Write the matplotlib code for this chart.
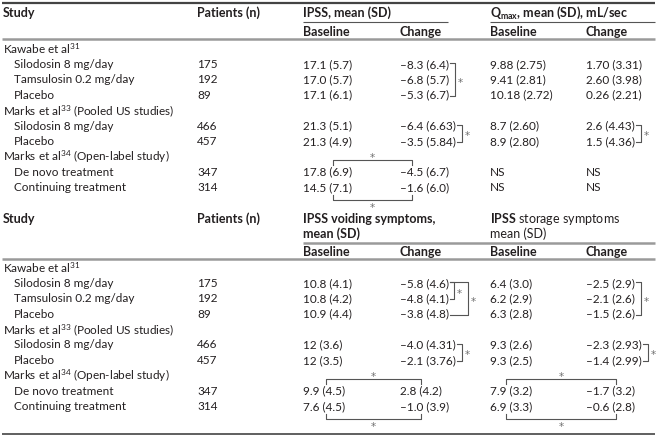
import matplotlib.pyplot as plt

plt.rcParams['font.family'] = 'Lato'
plt.rcParams['mathtext.fontset'] = 'custom'
plt.rcParams['mathtext.rm'] = 'Lato'
plt.rcParams['mathtext.bf'] = 'Lato:bold'
plt.rcParams['mathtext.it'] = 'Lato:italic'

# ---- data ----
studies = ["Kawabe et al$^{31}$",
           "Marks et al$^{33}$ (Pooled US studies)",
           "Marks et al$^{34}$ (Open-label study)"]
arms = [["Silodosin 8 mg/day", "Tamsulosin 0.2 mg/day", "Placebo"],
        ["Silodosin 8 mg/day", "Placebo"],
        ["De novo treatment", "Continuing treatment"]]
patients = [["175", "192", "89"], ["466", "457"], ["347", "314"]]

ipss_base = [["17.1 (5.7)", "17.0 (5.7)", "17.1 (6.1)"], ["21.3 (5.1)", "21.3 (4.9)"], ["17.8 (6.9)", "14.5 (7.1)"]]
ipss_change = [["–8.3 (6.4)", "–6.8 (5.7)", "–5.3 (6.7)"], ["–6.4 (6.63)", "–3.5 (5.84)"], ["–4.5 (6.7)", "–1.6 (6.0)"]]
qmax_base = [["9.88 (2.75)", "9.41 (2.81)", "10.18 (2.72)"], ["8.7 (2.60)", "8.9 (2.80)"], ["NS", "NS"]]
qmax_change = [["1.70 (3.31)", "2.60 (3.98)", "0.26 (2.21)"], ["2.6 (4.43)", "1.5 (4.36)"], ["NS", "NS"]]

void_base = [["10.8 (4.1)", "10.8 (4.2)", "10.9 (4.4)"], ["12 (3.6)", "12 (3.5)"], ["9.9 (4.5)", "7.6 (4.5)"]]
void_change = [["–5.8 (4.6)", "–4.8 (4.1)", "–3.8 (4.8)"], ["–4.0 (4.31)", "–2.1 (3.76)"], ["2.8 (4.2)", "–1.0 (3.9)"]]
stor_base = [["6.4 (3.0)", "6.2 (2.9)", "6.3 (2.8)"], ["9.3 (2.6)", "9.3 (2.5)"], ["7.9 (3.2)", "6.9 (3.3)"]]
stor_change = [["–2.5 (2.9)", "–2.1 (2.6)", "–1.5 (2.6)"], ["–2.3 (2.93)", "–1.4 (2.99)"], ["–1.7 (3.2)", "–0.6 (2.8)"]]

TXT = '#231f20'
LINE = '#555555'
RULE = '#9a9a9a'
STAR = '#707070'
FS = 8.5
FSB = 9.0
STEP = 15.4
COLX = [197, 303, 400, 490, 586]

fig = plt.figure(figsize=(6.57, 4.39), dpi=100)
ax = fig.add_axes([0, 0, 1, 1])
ax.set_xlim(0, 657)
ax.set_ylim(439, 0)
ax.axis('off')
fig.canvas.draw()
renderer = fig.canvas.get_renderer()


def put(x, y, s, **kw):
    size = FSB if kw.get('fontweight') == 'bold' else FS
    return ax.text(x, y, s, fontsize=kw.pop('fontsize', size), color=TXT, va='center', ha='left', **kw)


def right_edge(t):
    bb = t.get_window_extent(renderer)
    return ax.transData.inverted().transform((bb.x1, 0))[0]


def hline(y, x0, x1, color=LINE, lw=0.8):
    ax.plot([x0, x1], [y, y], color=color, lw=lw, solid_capstyle='butt')


def star(x, y, ha='left'):
    ax.text(x, y + 2, '*', fontsize=7.5, family='DejaVu Sans', color=STAR, va='center', ha=ha)


def bracket(texts, gap=6, extra=0):
    # right-hand bracket joining first and last text of a column, star beside it
    t_top, t_bot = texts[0], texts[-1]
    xv = max(right_edge(t) for t in texts) + gap + extra
    y0 = t_top.get_position()[1]
    y1 = t_bot.get_position()[1] + 1.5
    ax.plot([right_edge(t_top) + 1, xv, xv, right_edge(t_bot) + 1], [y0, y0, y1, y1],
            color=LINE, lw=0.8)
    star(xv + 3, (y0 + y1) / 2)
    return xv


def span(x0, x1, y, tick, star_y):
    ax.plot([x0, x0, x1, x1], [y + tick, y, y, y + tick], color=LINE, lw=0.8)
    star((x0 + x1) / 2, star_y, ha='center')


def body(y0, columns):
    cells = []
    y = y0
    for g in range(len(studies)):
        put(3, y, studies[g])
        y += STEP
        grp = []
        for i in range(len(arms[g])):
            row = [put(14, y, arms[g][i]), put(COLX[0], y, patients[g][i])]
            for c, col in enumerate(columns):
                row.append(put(COLX[c + 1], y, col[g][i]))
            grp.append(row)
            y += STEP
        cells.append(grp)
    return cells


def col(cells, g, c, rows):
    return [cells[g][r][c] for r in rows]


# ---- table 1 ----
hline(4, 2, 655, color='#444444', lw=1.6)
put(3, 13, 'Study', fontweight='bold')
put(COLX[0], 13, 'Patients (n)', fontweight='bold')
put(COLX[1], 13, 'IPSS, mean (SD)', fontweight='bold')
put(COLX[3], 13, r'Q$_{\mathbf{max}}$, mean (SD), mL/sec', fontweight='bold')
hline(23, 303, 448)
hline(23, 490, 655)
for x, s in zip(COLX[1:], ['Baseline', 'Change', 'Baseline', 'Change']):
    put(x, 31.5, s, fontweight='bold')
hline(40, 2, 655, color=RULE, lw=1.8)

t1 = body(49, [ipss_base, ipss_change, qmax_base, qmax_change])
bracket(col(t1, 0, 3, [0, 1, 2]))
bracket(col(t1, 1, 3, [0, 1]))
bracket(col(t1, 1, 5, [0, 1]))
ytop = t1[2][0][2].get_position()[1]
ybot = t1[2][1][2].get_position()[1]
span(333, 412, ytop - 11, 5, ytop - 16)
span(333, 412, ybot + 13, -5, ybot + 18)

# ---- table 2 ----
put(3, 219, 'Study', fontweight='bold')
put(COLX[0], 219, 'Patients (n)', fontweight='bold')
put(COLX[1], 219, 'IPSS voiding symptoms,', fontweight='bold')
put(COLX[1], 234, 'mean (SD)', fontweight='bold')
put(COLX[3], 219, r'IPSS $\mathrm{storage\ symptoms}$', fontweight='bold')
put(COLX[3], 234, 'mean (SD)', fontsize=FSB)
hline(244, 303, 655, color=RULE, lw=1.8)
for x, s in zip(COLX[1:], ['Baseline', 'Change', 'Baseline', 'Change']):
    put(x, 252, s, fontweight='bold')
hline(260, 2, 655, color=RULE, lw=1.8)

t2 = body(268, [void_base, void_change, stor_base, stor_change])
bracket(col(t2, 0, 3, [0, 1]), gap=5)
bracket(col(t2, 0, 3, [0, 1, 2]), gap=5, extra=14)
bracket(col(t2, 0, 5, [0, 1, 2]))
bracket(col(t2, 1, 3, [0, 1]))
bracket(col(t2, 1, 5, [0, 1]))
ytop = t2[2][0][2].get_position()[1]
ybot = t2[2][1][2].get_position()[1]
span(326, 421, ytop - 11, 5, ytop - 16)
span(326, 421, ybot + 13, -5, ybot + 18)
span(506, 616, ytop - 11, 5, ytop - 16)
span(506, 616, ybot + 13, -5, ybot + 18)
hline(435, 2, 655, color='#444444', lw=1.2)

fig.savefig('out.png', dpi=100)
